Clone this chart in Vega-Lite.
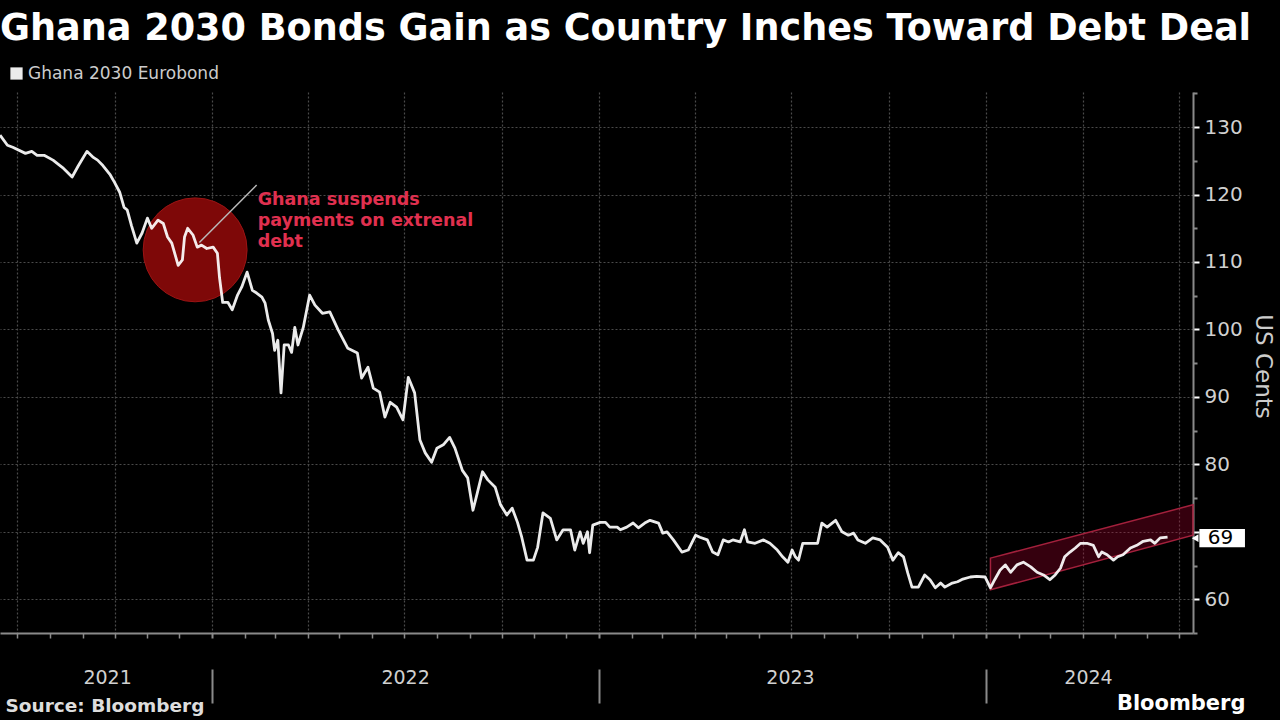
{
"$schema": "https://vega.github.io/schema/vega-lite/v6.json",
"width": 1193, "height": 541,
"autosize": "none",
"padding": {"left": 0, "top": 92, "right": 87, "bottom": 87},
"background": "#000000",
"config": {"view": {"stroke": null}},
"title": {"text": "Ghana 2030 Bonds Gain as Country Inches Toward Debt Deal", "anchor": "start", "frame": "group", "font": "DejaVu Sans", "fontWeight": "bold", "fontSize": 36.6, "color": "#ffffff", "offset": 17},
"datasets": {
"bond": [
{"date":"2021-06-15","price":128.8},{"date":"2021-06-22","price":127.3},{"date":"2021-06-27","price":127.0},{"date":"2021-07-09","price":126.1},{"date":"2021-07-15","price":126.4},{"date":"2021-07-20","price":125.8},{"date":"2021-07-27","price":125.8},{"date":"2021-08-04","price":125.1},{"date":"2021-08-13","price":124.0},{"date":"2021-08-22","price":122.6},{"date":"2021-08-28","price":124.3},{"date":"2021-09-05","price":126.4},{"date":"2021-09-11","price":125.5},{"date":"2021-09-15","price":125.1},{"date":"2021-09-20","price":124.3},{"date":"2021-09-27","price":122.9},{"date":"2021-10-01","price":121.8},{"date":"2021-10-06","price":120.3},{"date":"2021-10-10","price":118.1},{"date":"2021-10-13","price":117.7},{"date":"2021-10-17","price":115.4},{"date":"2021-10-22","price":112.8},{"date":"2021-10-27","price":114.3},{"date":"2021-11-01","price":116.5},{"date":"2021-11-05","price":115.0},{"date":"2021-11-11","price":116.2},{"date":"2021-11-16","price":115.7},{"date":"2021-11-20","price":113.7},{"date":"2021-11-24","price":112.8},{"date":"2021-11-30","price":109.5},{"date":"2021-12-04","price":110.3},{"date":"2021-12-06","price":113.7},{"date":"2021-12-09","price":115.0},{"date":"2021-12-14","price":114.0},{"date":"2021-12-18","price":112.2},{"date":"2021-12-22","price":112.5},{"date":"2021-12-27","price":112.0},
{"date":"2022-01-02","price":112.2},{"date":"2022-01-06","price":111.3},{"date":"2022-01-08","price":107.7},{"date":"2022-01-11","price":104.0},{"date":"2022-01-16","price":104.0},{"date":"2022-01-20","price":102.9},{"date":"2022-01-25","price":105.1},{"date":"2022-01-29","price":106.3},{"date":"2022-02-03","price":108.5},{"date":"2022-02-08","price":105.8},{"date":"2022-02-12","price":105.4},{"date":"2022-02-17","price":104.8},{"date":"2022-02-20","price":103.9},{"date":"2022-02-23","price":101.4},{"date":"2022-02-27","price":99.4},{"date":"2022-03-01","price":96.9},{"date":"2022-03-04","price":98.4},{"date":"2022-03-07","price":90.6},{"date":"2022-03-10","price":97.7},{"date":"2022-03-14","price":97.7},{"date":"2022-03-17","price":96.6},{"date":"2022-03-20","price":100.3},{"date":"2022-03-23","price":97.7},{"date":"2022-03-28","price":100.3},{"date":"2022-04-03","price":105.1},{"date":"2022-04-08","price":103.6},{"date":"2022-04-15","price":102.4},{"date":"2022-04-22","price":102.6},{"date":"2022-04-30","price":99.9},{"date":"2022-05-09","price":97.2},{"date":"2022-05-18","price":96.5},{"date":"2022-05-22","price":92.8},{"date":"2022-05-28","price":94.4},{"date":"2022-06-02","price":91.3},{"date":"2022-06-08","price":90.7},{"date":"2022-06-13","price":87.0},{"date":"2022-06-18","price":89.2},{"date":"2022-06-24","price":88.5},{"date":"2022-06-30","price":86.6},{"date":"2022-07-05","price":92.9},{"date":"2022-07-11","price":90.6},{"date":"2022-07-16","price":83.6},{"date":"2022-07-21","price":81.7},{"date":"2022-07-27","price":80.3},{"date":"2022-08-01","price":82.4},{"date":"2022-08-07","price":82.9},{"date":"2022-08-13","price":84.0},{"date":"2022-08-18","price":82.4},{"date":"2022-08-25","price":79.1},{"date":"2022-08-30","price":78.0},{"date":"2022-09-04","price":73.2},{"date":"2022-09-08","price":75.7},{"date":"2022-09-13","price":78.9},{"date":"2022-09-18","price":77.7},{"date":"2022-09-25","price":76.6},{"date":"2022-09-30","price":74.0},{"date":"2022-10-06","price":72.5},{"date":"2022-10-11","price":73.5},{"date":"2022-10-16","price":71.4},{"date":"2022-10-20","price":69.2},{"date":"2022-10-25","price":65.8},{"date":"2022-10-31","price":65.8},{"date":"2022-11-04","price":67.7},{"date":"2022-11-09","price":72.8},{"date":"2022-11-16","price":72.0},{"date":"2022-11-22","price":68.8},{"date":"2022-11-28","price":70.3},{"date":"2022-12-05","price":70.3},{"date":"2022-12-09","price":67.3},{"date":"2022-12-14","price":70.0},{"date":"2022-12-17","price":68.3},{"date":"2022-12-21","price":70.0},{"date":"2022-12-23","price":66.9},{"date":"2022-12-26","price":71.0},
{"date":"2023-01-02","price":71.4},{"date":"2023-01-07","price":71.4},{"date":"2023-01-11","price":70.7},{"date":"2023-01-18","price":70.7},{"date":"2023-01-21","price":70.3},{"date":"2023-01-27","price":70.7},{"date":"2023-02-02","price":71.3},{"date":"2023-02-07","price":70.6},{"date":"2023-02-13","price":71.3},{"date":"2023-02-18","price":71.7},{"date":"2023-02-26","price":71.3},{"date":"2023-03-02","price":69.8},{"date":"2023-03-06","price":70.0},{"date":"2023-03-12","price":68.8},{"date":"2023-03-20","price":67.0},{"date":"2023-03-26","price":67.3},{"date":"2023-04-02","price":69.5},{"date":"2023-04-06","price":69.2},{"date":"2023-04-13","price":68.8},{"date":"2023-04-18","price":67.0},{"date":"2023-04-23","price":66.6},{"date":"2023-04-28","price":68.8},{"date":"2023-05-03","price":68.5},{"date":"2023-05-07","price":68.8},{"date":"2023-05-14","price":68.5},{"date":"2023-05-18","price":70.3},{"date":"2023-05-21","price":68.5},{"date":"2023-05-28","price":68.3},{"date":"2023-06-05","price":68.8},{"date":"2023-06-11","price":68.3},{"date":"2023-06-18","price":67.3},{"date":"2023-06-23","price":66.3},{"date":"2023-06-28","price":65.5},{"date":"2023-07-02","price":67.3},{"date":"2023-07-05","price":66.3},{"date":"2023-07-08","price":65.8},{"date":"2023-07-12","price":68.3},{"date":"2023-07-19","price":68.3},{"date":"2023-07-26","price":68.3},{"date":"2023-07-30","price":71.3},{"date":"2023-08-04","price":70.7},{"date":"2023-08-12","price":71.7},{"date":"2023-08-18","price":70.0},{"date":"2023-08-24","price":69.5},{"date":"2023-08-29","price":69.8},{"date":"2023-09-02","price":68.8},{"date":"2023-09-09","price":68.3},{"date":"2023-09-16","price":69.1},{"date":"2023-09-23","price":68.8},{"date":"2023-09-30","price":67.7},{"date":"2023-10-05","price":65.8},{"date":"2023-10-10","price":66.9},{"date":"2023-10-15","price":66.3},{"date":"2023-10-19","price":63.9},{"date":"2023-10-23","price":61.8},{"date":"2023-10-29","price":61.8},{"date":"2023-11-04","price":63.6},{"date":"2023-11-09","price":62.9},{"date":"2023-11-14","price":61.7},{"date":"2023-11-19","price":62.4},{"date":"2023-11-23","price":61.8},{"date":"2023-11-30","price":62.4},{"date":"2023-12-05","price":62.6},{"date":"2023-12-10","price":63.0},{"date":"2023-12-17","price":63.3},{"date":"2023-12-23","price":63.4},{"date":"2023-12-31","price":63.3},
{"date":"2024-01-05","price":61.7},{"date":"2024-01-09","price":62.9},{"date":"2024-01-14","price":64.3},{"date":"2024-01-19","price":65.1},{"date":"2024-01-24","price":64.0},{"date":"2024-01-30","price":65.1},{"date":"2024-02-05","price":65.5},{"date":"2024-02-12","price":64.8},{"date":"2024-02-18","price":64.0},{"date":"2024-02-24","price":63.6},{"date":"2024-03-01","price":62.9},{"date":"2024-03-06","price":63.6},{"date":"2024-03-11","price":64.6},{"date":"2024-03-15","price":66.3},{"date":"2024-03-20","price":67.0},{"date":"2024-03-25","price":67.6},{"date":"2024-03-30","price":68.3},{"date":"2024-04-05","price":68.3},{"date":"2024-04-11","price":68.0},{"date":"2024-04-16","price":66.3},{"date":"2024-04-19","price":67.0},{"date":"2024-04-24","price":66.6},{"date":"2024-04-30","price":65.8},{"date":"2024-05-04","price":66.3},{"date":"2024-05-09","price":66.6},{"date":"2024-05-16","price":67.6},{"date":"2024-05-22","price":68.0},{"date":"2024-05-28","price":68.6},{"date":"2024-06-04","price":68.8},{"date":"2024-06-08","price":68.3},{"date":"2024-06-13","price":69.1},{"date":"2024-06-20","price":69.2}
]
},
"resolve": {"axis": {"x": "independent", "y": "independent"}},
"layer": [
{
"data": {"values": [{"date": "2021-12-16", "price": 111.8}]},
"mark": {"type": "point", "filled": true, "shape": "circle", "size": 10800, "fill": "#7e0808", "fillOpacity": 1, "stroke": "#9a1414", "strokeWidth": 1},
"encoding": {
"x": {"field": "date", "type": "temporal",
"axis": {"orient": "bottom", "values": [{"year": 2021, "month": 9, "date": 24, "utc": true}, {"year": 2022, "month": 7, "date": 2, "utc": true}, {"year": 2023, "month": 6, "date": 30, "utc": true}, {"year": 2024, "month": 4, "date": 6, "utc": true}],
"labelExpr": "utcFormat(datum.value, '%Y')", "ticks": false, "tickSize": 0, "domain": false, "grid": false, "labelPadding": 44, "labelBaseline": "middle", "labelFontSize": 19, "labelColor": "#d0d0d0", "labelFont": "DejaVu Sans", "labelFlush": false, "labelOverlap": false,
"title": "Bloomberg", "titleX": 1245, "titleY": 70, "titleAlign": "right", "titleBaseline": "middle", "titleFontSize": 21, "titleColor": "#ffffff", "titleFont": "DejaVu Sans", "titleFontWeight": "bold"}},
"y": {"field": "price", "type": "quantitative", "axis": null}
}
},
{
"data": {"values": [{"date": "2024-01-05", "hi": 66.1, "lo": 61.4}, {"date": "2024-07-14", "hi": 74.0, "lo": 69.5}]},
"mark": {"type": "area", "fill": "#b00030", "fillOpacity": 0.3, "stroke": "#a3203c", "strokeWidth": 1.5},
"encoding": {
"x": {"field": "date", "type": "temporal", "axis": null},
"y": {"field": "hi", "type": "quantitative", "axis": null},
"y2": {"field": "lo"}
}
},
{
"data": {"name": "bond"},
"mark": {"type": "line", "color": "#ffffff", "opacity": 0.92, "strokeWidth": 2.8, "strokeJoin": "round"},
"encoding": {
"x": {"field": "date", "type": "temporal",
"scale": {"type": "utc", "domain": [{"year": 2021, "month": 6, "date": 15, "utc": true}, {"year": 2024, "month": 7, "date": 14, "utc": true}]},
"axis": {"orient": "bottom", "tickCount": {"interval": "month", "step": 1}, "labels": false,
"domainColor": "#8a8a8a", "domainWidth": 2,
"tickColor": "#8a8a8a",
"tickWidth": {"condition": {"test": "utcmonth(datum.value) === 0", "value": 2}, "value": 1.5},
"tickSize": {"condition": {"test": "utcmonth(datum.value) === 0", "value": 70}, "value": 5},
"tickDash": {"condition": {"test": "utcmonth(datum.value) === 0", "value": [5, 31, 34, 0]}, "value": []},
"grid": true, "gridColor": "#4a4a4a", "gridDash": [2, 2], "gridWidth": 1.2,
"gridOpacity": {"condition": {"test": "utcmonth(datum.value) % 3 === 0", "value": 1}, "value": 0},
"title": "Source: Bloomberg", "titleX": 5, "titleY": 72, "titleAlign": "left", "titleAnchor": "start", "titleBaseline": "middle", "titleFont": "DejaVu Sans", "titleFontWeight": "bold", "titleFontSize": 18.5, "titleColor": "#dddddd"}},
"y": {"field": "price", "type": "quantitative",
"scale": {"domain": [55, 135.2], "nice": false, "zero": false},
"axis": {"orient": "right", "values": [55, 60, 65, 70, 75, 80, 85, 90, 95, 100, 105, 110, 115, 120, 125, 130, 135],
"labelExpr": "datum.value % 10 === 0 && datum.value !== 70 ? datum.label : ''", "labelOverlap": false,
"labelFontSize": 20, "labelColor": "#d0d0d0", "labelPadding": 5, "labelFont": "DejaVu Sans",
"domainColor": "#8a8a8a", "domainWidth": 2,
"tickColor": {"condition": {"test": "datum.value % 10 === 0", "value": "#ffffff"}, "value": "#8a8a8a"},
"tickSize": {"condition": {"test": "datum.value % 10 === 0", "value": 6}, "value": 4},
"tickWidth": 2,
"grid": true, "gridColor": "#4a4a4a", "gridDash": [2, 2], "gridWidth": 1.2,
"gridOpacity": {"condition": {"test": "datum.value % 10 === 0", "value": 1}, "value": 0},
"title": "US Cents", "titleX": 69, "titleY": 274, "titleAngle": 90, "titleAlign": "center", "titleBaseline": "middle", "titleFontSize": 23, "titleFontWeight": "normal", "titleColor": "#cccccc", "titleFont": "DejaVu Sans"}},
"color": {"datum": "Ghana 2030 Eurobond", "scale": {"range": ["#ffffff"]},
"legend": {"orient": "none", "legendX": 8, "legendY": -27, "title": null, "symbolType": "square", "symbolSize": 150, "symbolFillColor": "#ffffff", "symbolStrokeWidth": 0, "labelFontSize": 17, "labelLimit": 400, "labelColor": "#cccccc", "labelOffset": 3, "labelFont": "DejaVu Sans"}}
}
},
{
"data": {"values": [{"date": "2021-12-20", "price": 112.9, "date2": "2022-02-12", "price2": 121.4}]},
"mark": {"type": "rule", "color": "#bbbbbb", "strokeWidth": 1.5},
"encoding": {
"x": {"field": "date", "type": "temporal", "axis": null},
"x2": {"field": "date2"},
"y": {"field": "price", "type": "quantitative", "axis": null},
"y2": {"field": "price2"}
}
},
{
"data": {"values": [{"date": "2022-02-13", "price": 120.5, "note": "Ghana suspends\npayments on extrenal\ndebt"}]},
"mark": {"type": "text", "align": "left", "baseline": "top", "lineBreak": "\n", "lineHeight": 21, "font": "DejaVu Sans", "fontWeight": "bold", "fontSize": 17.5, "color": "#e0304f"},
"encoding": {
"x": {"field": "date", "type": "temporal", "axis": null},
"y": {"field": "price", "type": "quantitative", "axis": null},
"text": {"field": "note"}
}
},
{
"data": {"values": [{"date": "2024-07-20", "date2": "2024-09-01", "price": 70.4, "price2": 67.7}]},
"mark": {"type": "rect", "fill": "#ffffff"},
"encoding": {
"x": {"field": "date", "type": "temporal", "axis": null},
"x2": {"field": "date2"},
"y": {"field": "price", "type": "quantitative", "axis": null},
"y2": {"field": "price2"}
}
},
{
"data": {"values": [{"date": "2024-07-16", "price": 69.05}]},
"mark": {"type": "point", "shape": "triangle-left", "filled": true, "size": 60, "fill": "#ffffff", "opacity": 1},
"encoding": {
"x": {"field": "date", "type": "temporal", "axis": null},
"y": {"field": "price", "type": "quantitative", "axis": null}
}
},
{
"data": {"values": [{"date": "2024-08-09", "price": 69.05, "label": "69"}]},
"mark": {"type": "text", "align": "center", "baseline": "middle", "fontSize": 20, "color": "#000000", "font": "DejaVu Sans"},
"encoding": {
"x": {"field": "date", "type": "temporal", "axis": null},
"y": {"field": "price", "type": "quantitative", "axis": null},
"text": {"field": "label"}
}
}
]
}
